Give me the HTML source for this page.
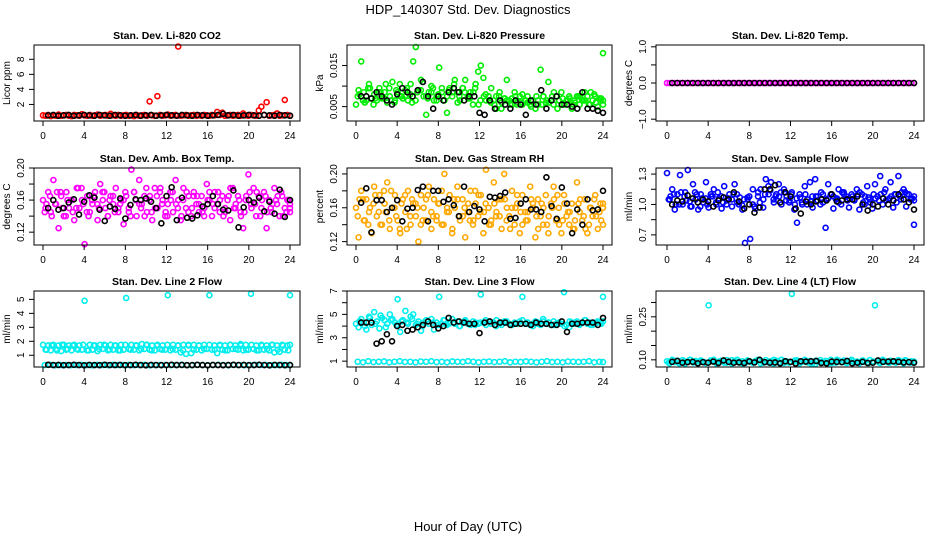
<!DOCTYPE html>
<html><head><meta charset="utf-8"><style>
html,body{margin:0;padding:0;background:#fff;}
svg{display:block;font-family:"Liberation Sans",sans-serif;}
</style></head><body>
<svg id="chart" width="936" height="540" viewBox="0 0 936 540">
<text x="468" y="14" text-anchor="middle" font-size="13">HDP_140307  Std. Dev. Diagnostics</text>
<text x="468" y="531" text-anchor="middle" font-size="13">Hour of Day (UTC)</text>
</svg>
<script>
// ---- data ----
const xTicks = [0,4,8,12,16,20,24];
const co2Color = [0.55,0.5,0.6,0.45,0.55,0.5,0.65,0.5,0.55,0.6,0.5,0.45,0.6,0.55,0.5,0.7,0.55,0.5,0.6,0.5,0.55,0.65,0.5,0.55,0.6,0.5,0.75,0.55,0.5,0.6,0.5,0.55,0.6,0.5,0.55,0.45,0.6,0.5,0.55,0.6,0.5,2.4,0.55,0.5,3.1,0.6,0.5,0.55,0.65,0.5,0.55,0.6,9.7,0.5,0.55,0.6,0.5,0.55,0.6,0.5,0.55,0.5,0.6,0.55,0.5,0.6,0.55,1.0,0.6,0.9,0.5,0.55,0.6,0.5,0.55,0.6,0.5,0.8,0.55,0.5,0.6,0.55,0.5,1.2,1.7,0.6,2.3,0.5,0.55,0.6,0.8,0.5,0.55,2.6,0.6,0.5];
const co2Black = [0.55,0.6,0.5,0.55,0.6,0.5,0.55,0.6,0.55,0.5,0.6,0.55,0.5,0.6,0.55,0.5,0.55,0.6,0.5,0.55,0.6,0.5,0.55,0.6,0.55,0.5,0.6,0.55,0.5,0.6,0.55,0.5,0.55,0.6,0.75,0.55,0.6,0.5,0.55,0.6,0.55,0.5,0.6,0.55,0.5,0.6,0.55,0.5];
const presColor = [0.0055,0.009,0.016,0.0085,0.0065,0.0105,0.007,0.008,0.0065,0.0095,0.007,0.0085,0.006,0.0075,0.011,0.0065,0.0085,0.0075,0.007,0.009,0.0065,0.0105,0.016,0.0195,0.009,0.0115,0.0075,0.003,0.0085,0.01,0.0065,0.0075,0.0145,0.0085,0.0065,0.0035,0.0095,0.0075,0.0115,0.0085,0.0065,0.0095,0.0115,0.0075,0.0085,0.0055,0.0105,0.0135,0.015,0.012,0.0065,0.0075,0.0095,0.0065,0.0045,0.0075,0.006,0.007,0.0115,0.0065,0.0055,0.0085,0.006,0.0075,0.0055,0.0065,0.0075,0.0055,0.0065,0.0045,0.0065,0.014,0.0075,0.006,0.011,0.0065,0.0055,0.0075,0.0065,0.0085,0.0055,0.0065,0.0075,0.0045,0.0065,0.0075,0.0055,0.0065,0.0085,0.0075,0.0055,0.0065,0.0075,0.005,0.0065,0.018];
const presColor2 = [0.0075,0.0065,0.0095,0.0055,0.0085,0.007,0.0095,0.006,0.0105,0.0075,0.008,0.0065,0.009,0.0075,0.0085,0.0065,0.0095,0.0075,0.0085,0.006,0.0095,0.007,0.0085,0.0055,0.0075,0.0065,0.0055,0.0085,0.007,0.0055,0.0075,0.006,0.0065,0.005,0.0075,0.0055,0.0065,0.0075,0.0045,0.007,0.0065,0.0055,0.0075,0.0065,0.0055,0.008,0.007,0.0065];
const presColor3 = [0.008,0.006,0.0095,0.007,0.0085,0.0105,0.0065,0.009,0.0075,0.0095,0.006,0.0085,0.011,0.007,0.0095,0.008,0.0065,0.009,0.0105,0.0075,0.0085,0.007,0.0095,0.0065,0.008,0.006,0.0075,0.0045,0.0065,0.007,0.0055,0.008,0.006,0.0065,0.0055,0.0075,0.006,0.0085,0.0065,0.0055,0.007,0.006,0.0075,0.0065,0.0085,0.006,0.007,0.0055];
const presBlack = [0.0075,0.0075,0.007,0.0085,0.0075,0.0065,0.0055,0.008,0.0095,0.0085,0.0075,0.009,0.011,0.0075,0.0045,0.0075,0.0065,0.0085,0.0095,0.0085,0.0065,0.0075,0.0075,0.0035,0.003,0.0065,0.0045,0.0065,0.0055,0.0045,0.0065,0.0055,0.003,0.0065,0.0055,0.009,0.0045,0.0065,0.0075,0.0055,0.0055,0.005,0.0045,0.0085,0.0045,0.0045,0.004,0.0035];
const tempColor = [0,0,0,0,0,0,0,0,0,0,0,0,0,0,0,0,0,0,0,0,0,0,0,0,0,0,0,0,0,0,0,0,0,0,0,0,0,0,0,0,0,0,0,0,0,0,0,0,0,0,0,0,0,0,0,0,0,0,0,0,0,0,0,0,0,0,0,0,0,0,0,0,0,0,0,0,0,0,0,0,0,0,0,0,0,0,0,0,0,0,0,0,0,0,0,0];
const tempBlack = [0,0,0,0,0,0,0,0,0,0,0,0,0,0,0,0,0,0,0,0,0,0,0,0,0,0,0,0,0,0,0,0,0,0,0,0,0,0,0,0,0,0,0,0,0,0,0,0];
const ambColor = [0.16,0.15,0.17,0.145,0.185,0.155,0.125,0.165,0.14,0.17,0.15,0.16,0.135,0.175,0.15,0.16,0.105,0.165,0.145,0.155,0.17,0.135,0.18,0.16,0.15,0.14,0.165,0.155,0.175,0.145,0.16,0.13,0.165,0.15,0.198,0.17,0.14,0.185,0.155,0.165,0.145,0.16,0.135,0.175,0.15,0.17,0.16,0.14,0.155,0.17,0.145,0.185,0.16,0.135,0.175,0.15,0.165,0.14,0.17,0.155,0.145,0.165,0.15,0.18,0.16,0.14,0.17,0.155,0.145,0.165,0.15,0.16,0.135,0.175,0.15,0.165,0.145,0.125,0.16,0.192,0.155,0.175,0.14,0.165,0.15,0.17,0.125,0.16,0.145,0.175,0.155,0.14,0.165,0.15,0.16,0.145];
const ambColor2 = [0.145,0.165,0.155,0.17,0.14,0.16,0.15,0.175,0.145,0.16,0.155,0.17,0.14,0.165,0.15,0.16,0.145,0.17,0.155,0.14,0.165,0.15,0.175,0.145,0.16,0.155,0.14,0.17,0.15,0.165,0.145,0.16,0.155,0.17,0.14,0.165,0.15,0.16,0.145,0.17,0.155,0.14,0.165,0.15,0.16,0.17,0.145,0.155];
const ambColor3 = [0.155,0.14,0.17,0.15,0.16,0.145,0.175,0.155,0.14,0.165,0.15,0.17,0.16,0.145,0.155,0.17,0.14,0.16,0.15,0.175,0.145,0.165,0.155,0.14,0.17,0.15,0.16,0.145,0.165,0.155,0.14,0.17,0.15,0.16,0.145,0.175,0.155,0.14,0.165,0.15,0.17,0.16,0.145,0.155,0.165,0.14,0.16,0.15];
const ambBlack = [0.15,0.16,0.148,0.15,0.157,0.161,0.142,0.158,0.166,0.163,0.148,0.134,0.152,0.149,0.162,0.137,0.154,0.161,0.16,0.162,0.158,0.15,0.131,0.165,0.176,0.135,0.163,0.138,0.137,0.141,0.152,0.155,0.165,0.155,0.148,0.147,0.172,0.126,0.151,0.16,0.157,0.163,0.146,0.158,0.143,0.173,0.139,0.16];
const rhColor = [0.16,0.125,0.18,0.145,0.17,0.155,0.13,0.185,0.15,0.175,0.14,0.165,0.19,0.135,0.16,0.175,0.145,0.13,0.17,0.155,0.18,0.14,0.165,0.15,0.12,0.175,0.16,0.145,0.185,0.135,0.17,0.15,0.165,0.14,0.2,0.155,0.175,0.13,0.16,0.185,0.145,0.17,0.125,0.155,0.18,0.14,0.165,0.15,0.175,0.13,0.205,0.16,0.145,0.19,0.155,0.17,0.135,0.2,0.16,0.15,0.18,0.14,0.165,0.13,0.175,0.155,0.145,0.185,0.16,0.125,0.17,0.15,0.14,0.175,0.13,0.165,0.185,0.145,0.16,0.13,0.175,0.15,0.14,0.165,0.135,0.19,0.155,0.145,0.17,0.13,0.16,0.15,0.175,0.135,0.165,0.14];
const rhColor2 = [0.15,0.17,0.14,0.165,0.155,0.18,0.145,0.16,0.135,0.175,0.15,0.165,0.14,0.17,0.155,0.145,0.18,0.16,0.135,0.17,0.15,0.165,0.145,0.175,0.155,0.14,0.165,0.15,0.17,0.135,0.16,0.155,0.145,0.17,0.15,0.165,0.14,0.16,0.175,0.145,0.155,0.135,0.165,0.15,0.14,0.17,0.155,0.16];
const rhColor3 = [0.17,0.145,0.16,0.175,0.14,0.155,0.18,0.15,0.165,0.135,0.17,0.16,0.145,0.175,0.15,0.165,0.14,0.155,0.17,0.15,0.16,0.145,0.18,0.155,0.165,0.14,0.15,0.17,0.145,0.16,0.175,0.14,0.155,0.165,0.135,0.16,0.15,0.17,0.14,0.165,0.155,0.145,0.17,0.135,0.16,0.15,0.145,0.165];
const rhBlack = [0.166,0.183,0.131,0.169,0.169,0.155,0.16,0.169,0.144,0.159,0.16,0.181,0.185,0.144,0.18,0.18,0.167,0.17,0.163,0.15,0.185,0.155,0.162,0.158,0.144,0.173,0.172,0.174,0.178,0.147,0.148,0.165,0.17,0.158,0.158,0.155,0.196,0.162,0.147,0.184,0.165,0.13,0.158,0.14,0.17,0.157,0.158,0.18];
const flowColor = [1.31,1.05,1.15,0.95,1.1,1.29,1.0,1.12,1.34,0.98,1.2,1.05,0.95,1.1,1.02,1.22,0.97,1.08,1.15,1.0,1.06,0.96,1.18,1.04,1.1,0.98,1.2,1.02,1.07,0.95,0.62,1.05,0.66,1.0,0.96,1.08,1.15,0.97,1.25,1.18,1.22,1.05,1.1,1.2,1.0,1.15,1.08,1.02,1.12,0.95,0.82,1.1,1.0,1.18,1.05,1.22,0.97,1.25,1.08,1.0,1.02,0.77,1.2,1.1,0.96,1.05,1.15,1.0,1.12,1.08,0.97,1.1,1.05,1.15,0.95,1.1,1.0,1.18,1.05,0.96,1.2,1.08,1.28,1.0,1.15,1.05,1.22,0.97,1.1,1.28,1.05,1.15,0.98,1.1,1.05,0.8];
const flowColor2 = [1.05,1.1,1.0,1.08,1.03,1.12,0.98,1.06,1.1,1.02,1.08,1.0,1.05,1.1,0.99,1.07,1.15,1.12,1.05,1.1,1.02,1.08,1.12,1.04,1.0,1.07,1.1,1.03,1.08,1.12,1.05,1.1,1.06,1.12,1.04,1.08,1.1,1.02,1.07,1.1,1.04,1.12,1.06,1.1,1.08,1.12,1.05,1.08];
const flowColor3 = [1.08,1.0,1.12,1.04,0.98,1.1,1.06,1.0,1.08,1.12,1.02,1.06,1.1,1.0,1.05,1.08,0.98,1.02,1.1,1.14,1.08,1.12,1.04,1.1,1.06,1.02,1.0,1.08,1.04,1.1,1.06,1.08,1.02,1.1,1.06,1.04,1.12,1.08,1.02,1.06,1.1,1.04,1.08,1.02,1.12,1.1,1.06,1.04];
const flowBlack = [1.0,1.04,1.03,1.09,1.06,1.02,1.05,1.03,0.98,1.04,1.07,1.05,1.12,1.03,0.96,1.0,0.92,0.97,1.15,1.15,1.19,1.02,1.12,1.08,0.96,0.91,1.03,1.0,1.03,1.05,1.04,1.1,1.03,1.04,1.05,1.05,1.08,1.0,0.94,1.0,0.98,1.06,1.0,1.04,1.1,1.05,1.02,0.95];
const l2Color = [1.75,1.4,1.7,1.35,1.75,1.45,1.7,1.3,1.75,1.4,1.7,1.35,1.75,1.45,1.7,1.4,4.9,1.35,1.75,1.4,1.7,1.3,1.75,1.45,1.7,1.35,1.75,1.4,1.7,1.35,1.75,1.4,5.1,1.45,1.75,1.4,1.7,1.35,1.8,1.45,1.75,1.4,1.7,1.35,1.75,1.45,1.7,1.4,5.3,1.35,1.75,1.4,1.7,1.2,1.75,1.1,1.7,1.15,1.75,1.4,1.7,1.35,1.75,1.45,5.3,1.4,1.7,1.15,1.75,1.4,1.7,1.35,1.75,1.45,1.7,1.4,1.8,1.35,1.75,1.4,5.4,1.45,1.7,1.35,1.75,1.4,1.7,1.35,1.75,1.2,1.7,1.25,1.75,1.4,1.7,5.3];
const l2Color2 = [0.3,0.32,0.28,0.3,0.31,0.29,0.3,0.32,0.3,0.28,0.31,0.3,0.29,0.32,0.3,0.3,0.31,0.29,0.3,0.32,0.28,0.3,0.31,0.3,0.29,0.3,0.32,0.3,0.28,0.31,0.3,0.29,0.3,0.32,0.3,0.28,0.31,0.3,0.29,0.3,0.32,0.3,0.31,0.29,0.3,0.32,0.3,0.3];
const l2Color3 = [1.4,1.7,1.35,1.75,1.45,1.7,1.4,1.75,1.35,1.7,1.45,1.75,1.4,1.7,1.35,1.75,1.4,1.7,1.45,1.75,1.35,1.7,1.4,1.75,1.45,1.7,1.35,1.75,1.4,1.7,1.45,1.75,1.4,1.7,1.35,1.75,1.45,1.7,1.4,1.75,1.35,1.7,1.45,1.75,1.4,1.7,1.35,1.75];
const l2Black = [0.32,0.3,0.31,0.29,0.3,0.32,0.3,0.28,0.31,0.3,0.29,0.32,0.3,0.3,0.31,0.29,0.3,0.32,0.3,0.28,0.31,0.3,0.29,0.3,0.32,0.3,0.31,0.29,0.3,0.32,0.3,0.28,0.31,0.3,0.29,0.3,0.32,0.3,0.31,0.29,0.3,0.32,0.3,0.28,0.31,0.3,0.29,0.3];
const l3Color = [4.2,3.9,4.6,4.3,3.7,4.8,4.1,5.2,4.4,3.8,4.7,4.5,4.2,5.0,4.6,4.3,6.3,3.5,4.5,5.3,4.2,4.8,5.0,4.1,4.4,3.6,4.3,4.5,4.2,4.6,3.7,4.3,6.5,4.2,4.5,4.1,4.3,4.6,4.2,4.4,4.0,4.3,4.5,4.2,4.1,4.4,4.3,4.2,6.7,4.3,4.1,4.4,4.2,4.3,4.5,4.2,4.1,4.4,4.3,4.2,4.1,4.3,4.2,4.4,6.5,4.2,4.3,4.1,4.2,4.4,4.3,4.1,4.6,4.2,4.3,4.1,4.4,4.2,4.3,4.2,6.9,4.1,3.9,4.3,4.2,4.4,4.1,4.3,4.5,4.2,4.3,4.1,4.2,4.4,4.3,6.5];
const l3Color2 = [0.95,0.9,1.0,0.92,0.95,0.98,0.9,0.95,1.0,0.93,0.95,0.9,0.97,0.95,1.0,0.92,0.95,0.9,0.98,0.95,0.93,1.0,0.95,0.9,0.95,0.97,0.92,0.95,1.0,0.9,0.95,0.93,0.98,0.95,0.9,0.95,1.0,0.92,0.95,0.9,0.97,0.95,0.93,0.95,1.0,0.9,0.95,0.92];
const l3Color3 = [4.4,4.0,4.7,4.2,4.9,3.9,4.5,4.1,4.4,4.3,4.6,4.2,4.0,4.4,4.3,4.1,4.5,4.2,4.3,4.0,4.4,4.2,4.1,4.3,4.5,4.2,4.0,4.3,4.4,4.1,4.2,4.5,4.3,4.0,4.2,4.4,4.3,4.1,4.2,4.0,4.4,4.3,4.2,4.5,4.1,4.3,4.2,4.4];
const l3Black = [4.3,4.3,4.3,2.5,2.7,3.3,2.7,4.0,4.1,3.6,3.7,3.9,4.1,4.4,4.1,3.8,4.0,4.7,4.3,4.4,4.3,4.2,4.2,3.4,4.3,4.4,4.1,4.3,4.3,4.1,4.2,4.2,4.2,4.1,4.3,4.2,4.2,4.1,4.1,4.4,3.5,4.2,4.2,4.3,4.3,4.3,4.1,4.7];
const l4Color = [0.095,0.088,0.1,0.092,0.097,0.09,0.099,0.087,0.094,0.1,0.091,0.096,0.088,0.098,0.093,0.09,0.29,0.095,0.1,0.088,0.094,0.097,0.09,0.099,0.092,0.087,0.096,0.1,0.091,0.095,0.089,0.098,0.093,0.09,0.096,0.1,0.088,0.094,0.099,0.091,0.095,0.087,0.097,0.092,0.1,0.089,0.095,0.09,0.33,0.094,0.098,0.088,0.093,0.1,0.091,0.096,0.089,0.085,0.094,0.099,0.092,0.096,0.088,0.1,0.093,0.09,0.097,0.092,0.098,0.089,0.095,0.1,0.091,0.094,0.088,0.097,0.093,0.09,0.099,0.092,0.29,0.096,0.089,0.1,0.094,0.091,0.097,0.093,0.09,0.099,0.094,0.088,0.097,0.092,0.095,0.09];
const l4Color2 = [0.09,0.097,0.088,0.095,0.1,0.091,0.094,0.089,0.098,0.092,0.096,0.09,0.099,0.093,0.088,0.095,0.091,0.097,0.09,0.094,0.1,0.089,0.096,0.092,0.098,0.09,0.094,0.088,0.097,0.092,0.095,0.089,0.1,0.093,0.09,0.096,0.092,0.098,0.089,0.094,0.091,0.097,0.09,0.095,0.093,0.099,0.09,0.094];
const l4Black = [0.093,0.096,0.09,0.092,0.093,0.088,0.092,0.09,0.094,0.089,0.098,0.093,0.09,0.091,0.089,0.095,0.091,0.1,0.092,0.09,0.091,0.088,0.095,0.093,0.087,0.095,0.094,0.095,0.096,0.089,0.088,0.094,0.093,0.092,0.096,0.088,0.09,0.093,0.089,0.09,0.098,0.093,0.094,0.095,0.093,0.091,0.092,0.09];

// ---- layout ----
const cols = [{l:34,r:300,x0:43,x24:290},{l:347,r:612,x0:356,x24:603},{l:656,r:924,x0:667,x24:914}];
const rows = [{t:45,b:121},{t:168,b:245},{t:291,b:367}];
const panels = [
 {name:'co2',title:'Stan. Dev. Li-820 CO2',ylab:'Licor ppm',c:0,r:0,ymin:-0.2,ymax:9.9,ticks:[2,4,6,8],labels:['2','4','6','8'],color:'#ff0000',series:[co2Color],black:co2Black},
 {name:'pressure',title:'Stan. Dev. Li-820 Pressure',ylab:'kPa',c:1,r:0,ymin:0.0015,ymax:0.02,ticks:[0.005,0.01,0.015],labels:['0.005','','0.015'],color:'#00ee00',series:[presColor,presColor2,presColor3],black:presBlack},
 {name:'temp',title:'Stan. Dev. Li-820 Temp.',ylab:'degrees C',c:2,r:0,ymin:-1.05,ymax:1.05,ticks:[-1,-0.5,0,0.5,1],labels:['\u22121.0','','0.0','','1.0'],color:'#ff00ff',series:[tempColor],black:tempBlack},
 {name:'amb-box-temp',title:'Stan. Dev. Amb. Box Temp.',ylab:'degrees C',c:0,r:1,ymin:0.104,ymax:0.2,ticks:[0.12,0.14,0.16,0.18,0.2],labels:['0.12','','0.16','','0.20'],color:'#ff00ff',series:[ambColor,ambColor2,ambColor3],black:ambBlack},
 {name:'gas-rh',title:'Stan. Dev. Gas Stream RH',ylab:'percent',c:1,r:1,ymin:0.116,ymax:0.207,ticks:[0.12,0.14,0.16,0.18,0.2],labels:['0.12','','0.16','','0.20'],color:'#ffa800',series:[rhColor,rhColor2,rhColor3],black:rhBlack},
 {name:'sample-flow',title:'Stan. Dev. Sample Flow',ylab:'ml/min',c:2,r:1,ymin:0.6,ymax:1.36,ticks:[0.7,0.85,1.0,1.15,1.3],labels:['0.7','','1.0','','1.3'],color:'#0000ff',series:[flowColor,flowColor2,flowColor3],black:flowBlack},
 {name:'line2-flow',title:'Stan. Dev. Line 2 Flow',ylab:'ml/min',c:0,r:2,ymin:0.16,ymax:5.6,ticks:[1,2,3,4,5],labels:['1','2','3','4','5'],color:'#00eeee',series:[l2Color,l2Color2,l2Color3],black:l2Black},
 {name:'line3-flow',title:'Stan. Dev. Line 3 Flow',ylab:'ml/min',c:1,r:2,ymin:0.5,ymax:7.0,ticks:[1,2,3,4,5,6,7],labels:['1','','3','','5','','7'],color:'#00eeee',series:[l3Color,l3Color2,l3Color3],black:l3Black},
 {name:'line4-flow',title:'Stan. Dev. Line 4 (LT) Flow',ylab:'ml/min',c:2,r:2,ymin:0.075,ymax:0.34,ticks:[0.1,0.15,0.2,0.25,0.3],labels:['0.10','','','0.25',''],color:'#00eeee',series:[l4Color,l4Color2],black:l4Black}
];

const NS='http://www.w3.org/2000/svg';
const svg=document.getElementById('chart');
function mk(tag,attrs,parent){const e=document.createElementNS(NS,tag);for(const k in attrs)e.setAttribute(k,attrs[k]);(parent||svg).appendChild(e);return e;}

panels.forEach(p=>{
  const C=cols[p.c], R=rows[p.r];
  const g=mk('g',{});
  
  
  const xs=h=>C.x0+(C.x24-C.x0)*h/24;
  const ys=v=>R.b-(v-p.ymin)/(p.ymax-p.ymin)*(R.b-R.t);
  const t=mk('text',{x:(C.l+C.r)/2,y:R.t-6,'text-anchor':'middle','font-size':'10.5','font-weight':'bold'},g);
  t.textContent=p.title;
  
  
  p.series.forEach((arr,si)=>{
    const n=arr.length;
    arr.forEach((v,i)=>{
      const h=Math.min(24,i*24/(n-1)+si*0.17);
      const c=mk('circle',{cx:xs(h),cy:ys(v),r:2.5,fill:'none',stroke:p.color,'stroke-width':1.6},g);
      
      
    });
  });
  const nb=p.black.length;
  p.black.forEach((v,i)=>{
    const h=0.5+i*23.5/(nb-1);
    const c=mk('circle',{cx:xs(h),cy:ys(v),r:2.5,fill:'none',stroke:'#000','stroke-width':1.6},g);
    
    
  });
  const b=mk('rect',{x:C.l,y:R.t,width:C.r-C.l,height:R.b-R.t,fill:'none',stroke:'#000','stroke-width':1},g);
  
  
  xTicks.forEach(h=>{
    mk('line',{x1:xs(h),x2:xs(h),y1:R.b,y2:R.b+5,stroke:'#000'},g);
    const l=mk('text',{x:xs(h),y:R.b+18,'text-anchor':'middle','font-size':'10'},g);
    l.textContent=h;
    
    
  });
  p.ticks.forEach((v,i)=>{
    const y=ys(v);
    mk('line',{x1:C.l-5,x2:C.l,y1:y,y2:y,stroke:'#000'},g);
    if(p.labels[i]){
      const tx=C.l-10;
      const l=mk('text',{x:tx,y:y,'text-anchor':'middle','font-size':'10',transform:`rotate(-90 ${tx} ${y})`},g);
      l.textContent=p.labels[i];
      
      
    }
  });
  const ax=C.l-24, ay=(R.t+R.b)/2;
  const yl=mk('text',{x:ax,y:ay,'text-anchor':'middle','font-size':'10',transform:`rotate(-90 ${ax} ${ay})`},g);
  yl.textContent=p.ylab;
  
  
});
</script>
</body></html>
